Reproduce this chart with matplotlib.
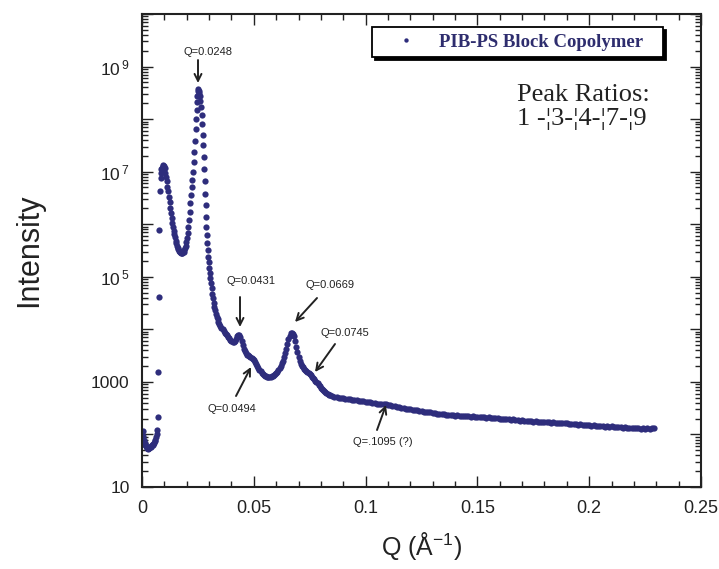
import matplotlib
matplotlib.use("Agg")
import matplotlib.pyplot as plt
from matplotlib.ticker import FixedLocator, LogLocator, NullFormatter, MultipleLocator

plt.rcParams['font.family'] = ['Liberation Sans', 'DejaVu Sans']
plt.rcParams['mathtext.fontset'] = 'custom'
plt.rcParams['mathtext.rm'] = 'Liberation Sans'
plt.rcParams['mathtext.it'] = 'Liberation Sans'

# --- data (Q in 1/A, intensity in counts) ---
q_beamstop = [0.0003, 0.0006, 0.0009, 0.0012, 0.0015, 0.0018, 0.0021, 0.0024, 0.0027,
              0.0030, 0.0033, 0.0036, 0.0039, 0.0042, 0.0045, 0.0048, 0.0051, 0.0054,
              0.0057, 0.0060, 0.0063, 0.0066, 0.0068, 0.0070, 0.0072, 0.0075, 0.0077,
              0.0080]
i_beamstop = [115, 95, 80, 70, 63, 59, 56, 55, 54,
              55, 56, 57, 58, 60, 62, 64, 67, 70,
              74, 80, 88, 100, 120, 215, 1550, 4.1e4, 7.6e5,
              4.2e6]

q_first = [0.0083, 0.0085, 0.0087, 0.0090, 0.0093, 0.0096, 0.0099, 0.0102, 0.0105,
           0.0108, 0.0111, 0.0114, 0.0117, 0.0120, 0.0123, 0.0126, 0.0129, 0.0132,
           0.0135, 0.0138, 0.0141, 0.0144, 0.0147, 0.0150, 0.0153, 0.0156, 0.0159,
           0.0162, 0.0165, 0.0168, 0.0171, 0.0174, 0.0177, 0.0180, 0.0183, 0.0186,
           0.0189, 0.0192, 0.0195, 0.0198, 0.0201, 0.0204, 0.0207, 0.0210, 0.0213,
           0.0216, 0.0219, 0.0222, 0.0225, 0.0228, 0.0231, 0.0234, 0.0237, 0.0240,
           0.0242, 0.0244, 0.0246, 0.0248, 0.0250, 0.0252, 0.0254, 0.0256, 0.0258,
           0.0261, 0.0264, 0.0267, 0.0270, 0.0272, 0.0274, 0.0276, 0.0278, 0.0280,
           0.0282, 0.0284, 0.0286, 0.0288, 0.0290, 0.0292, 0.0294, 0.0296, 0.0298,
           0.0300, 0.0303, 0.0306, 0.0309, 0.0312, 0.0315, 0.0318, 0.0321, 0.0324,
           0.0327, 0.0330, 0.0334, 0.0338, 0.0342, 0.0346]
i_first = [7.5e6, 9.5e6, 1.1e7, 1.2e7, 1.3e7, 1.35e7, 1.3e7, 1.15e7, 9.5e6,
           8.0e6, 6.5e6, 5.2e6, 4.2e6, 3.3e6, 2.6e6, 2.0e6, 1.6e6, 1.3e6,
           1.05e6, 8.8e5, 7.5e5, 6.5e5, 5.6e5, 4.9e5, 4.3e5, 3.9e5, 3.6e5,
           3.35e5, 3.15e5, 3.0e5, 2.9e5, 2.85e5, 2.8e5, 2.85e5, 2.9e5, 3.0e5,
           3.2e5, 3.5e5, 3.9e5, 4.6e5, 5.5e5, 6.8e5, 8.8e5, 1.2e6, 1.7e6,
           2.5e6, 3.6e6, 5.0e6, 7.0e6, 1.0e7, 1.5e7, 2.4e7, 3.8e7, 6.5e7,
           1.0e8, 1.5e8, 2.1e8, 2.8e8, 3.4e8, 3.7e8, 3.5e8, 3.1e8, 2.7e8,
           2.2e8, 1.7e8, 1.2e8, 8.0e7, 5.0e7, 3.2e7, 1.9e7, 1.1e7, 6.5e6,
           3.8e6, 2.3e6, 1.4e6, 9.0e5, 6.2e5, 4.4e5, 3.2e5, 2.4e5, 1.9e5,
           1.5e5, 1.2e5, 9.5e4, 7.5e4, 6.0e4, 4.8e4, 3.9e4, 3.2e4, 2.7e4,
           2.3e4, 2.0e4, 1.75e4, 1.55e4, 1.4e4, 1.28e4]

q_mid = [0.0350, 0.0355, 0.0360, 0.0365, 0.0370, 0.0375, 0.0380, 0.0385, 0.0390,
         0.0395, 0.0400, 0.0405, 0.0410, 0.0415, 0.0420, 0.0425, 0.0430, 0.0435,
         0.0440, 0.0445, 0.0450, 0.0455, 0.0460, 0.0465, 0.0470, 0.0475, 0.0480,
         0.0485, 0.0490, 0.0495, 0.0500, 0.0505, 0.0510, 0.0515, 0.0520, 0.0525,
         0.0530, 0.0535, 0.0540, 0.0545, 0.0550, 0.0555, 0.0560, 0.0565, 0.0570,
         0.0575, 0.0580, 0.0585, 0.0590, 0.0595, 0.0600, 0.0605, 0.0610, 0.0615,
         0.0620, 0.0625, 0.0630, 0.0635, 0.0640, 0.0645, 0.0650, 0.0655, 0.0660,
         0.0665, 0.0670, 0.0675, 0.0680, 0.0685, 0.0690, 0.0695, 0.0700, 0.0705,
         0.0710, 0.0715, 0.0720, 0.0725, 0.0730, 0.0735, 0.0740, 0.0745, 0.0750,
         0.0755, 0.0760, 0.0765, 0.0770, 0.0775, 0.0780, 0.0785, 0.0790, 0.0795,
         0.0800, 0.0805, 0.0810, 0.0815, 0.0820, 0.0825, 0.0830, 0.0835, 0.0840,
         0.0850, 0.0860, 0.0870, 0.0880, 0.0890, 0.0900, 0.0910, 0.0920, 0.0930,
         0.0940, 0.0950, 0.0960, 0.0970, 0.0980, 0.0990, 0.1000, 0.1010, 0.1020,
         0.1030, 0.1040, 0.1050, 0.1060, 0.1070, 0.1080, 0.1090, 0.1100, 0.1110,
         0.1120, 0.1130, 0.1140, 0.1150]
i_mid = [1.18e4, 1.08e4, 1.0e4, 9.3e3, 8.7e3, 8.2e3, 7.7e3, 7.2e3, 6.8e3,
         6.4e3, 6.1e3, 5.8e3, 5.7e3, 5.9e3, 6.6e3, 7.4e3, 7.9e3, 7.8e3,
         7.0e3, 6.0e3, 5.0e3, 4.3e3, 3.8e3, 3.5e3, 3.3e3, 3.2e3, 3.1e3,
         3.0e3, 2.9e3, 2.75e3, 2.6e3, 2.4e3, 2.2e3, 2.0e3, 1.85e3, 1.7e3,
         1.6e3, 1.5e3, 1.43e3, 1.37e3, 1.32e3, 1.28e3, 1.26e3, 1.25e3, 1.25e3,
         1.26e3, 1.28e3, 1.31e3, 1.35e3, 1.4e3, 1.47e3, 1.56e3, 1.68e3, 1.82e3,
         2.0e3, 2.25e3, 2.55e3, 2.95e3, 3.5e3, 4.3e3, 5.3e3, 6.5e3, 7.6e3,
         8.4e3, 8.7e3, 8.3e3, 7.4e3, 6.0e3, 4.7e3, 3.7e3, 3.0e3, 2.5e3,
         2.2e3, 2.0e3, 1.88e3, 1.78e3, 1.7e3, 1.62e3, 1.55e3, 1.48e3, 1.4e3,
         1.33e3, 1.26e3, 1.2e3, 1.13e3, 1.06e3, 1.0e3, 940, 880, 830,
         780, 735, 695, 660, 630, 605, 585, 568, 555,
         535, 522, 510, 500, 492, 485, 478, 470, 463,
         456, 450, 444, 437, 430, 425, 418, 412, 406,
         400, 394, 388, 382, 377, 373, 372, 368, 360,
         350, 343, 337, 330]

q_tail = [0.116, 0.117, 0.118, 0.119, 0.120, 0.121, 0.122, 0.123, 0.124, 0.125,
          0.126, 0.127, 0.128, 0.129, 0.130, 0.131, 0.132, 0.133, 0.134, 0.135,
          0.136, 0.137, 0.138, 0.139, 0.140, 0.141, 0.142, 0.143, 0.144, 0.145,
          0.146, 0.147, 0.148, 0.149, 0.150, 0.151, 0.152, 0.153, 0.154, 0.155,
          0.156, 0.157, 0.158, 0.159, 0.160, 0.161, 0.162, 0.163, 0.164, 0.165,
          0.166, 0.167, 0.168, 0.169, 0.170, 0.171, 0.172, 0.173, 0.174, 0.175,
          0.176, 0.177, 0.178, 0.179, 0.180, 0.181, 0.182, 0.183, 0.184, 0.185,
          0.186, 0.187, 0.188, 0.189, 0.190, 0.191, 0.192, 0.193, 0.194, 0.195,
          0.196, 0.197, 0.198, 0.199, 0.200, 0.201, 0.202, 0.203, 0.204, 0.205,
          0.206, 0.207, 0.208, 0.209, 0.210, 0.211, 0.212, 0.213, 0.214, 0.215,
          0.216, 0.217, 0.218, 0.219, 0.220, 0.221, 0.222, 0.223, 0.224, 0.225,
          0.226, 0.227, 0.228, 0.229]
i_tail = [322, 318, 310, 306, 300, 296, 292, 286, 283, 276,
          273, 268, 265, 262, 257, 254, 250, 247, 244, 240,
          238, 234, 236, 231, 229, 232, 226, 228, 224, 222,
          226, 219, 221, 217, 219, 214, 216, 212, 209, 213,
          206, 208, 203, 205, 200, 198, 201, 194, 196, 190,
          193, 187, 189, 184, 186, 181, 183, 178, 180, 175,
          177, 173, 176, 171, 173, 169, 172, 167, 169, 165,
          168, 164, 166, 162, 164, 159, 161, 156, 158, 153,
          155, 151, 153, 149, 151, 147, 149, 145, 147, 144,
          146, 141, 143, 140, 142, 138, 140, 136, 139, 134,
          137, 133, 135, 131, 134, 130, 133, 129, 132, 128,
          133, 129, 131, 134]

peak_labels = ['Q=0.0248', 'Q=0.0431', 'Q=0.0494', 'Q=0.0669', 'Q=0.0745', 'Q=.1095 (?)']
x_tick_labels = ['0', '0.05', '0.1', '0.15', '0.2', '0.25']
y_tick_labels = {1: '10', 3: '1000', 5: r'$10^{\,5}$', 7: r'$10^{\,7}$', 9: r'$10^{\,9}$'}

q = q_beamstop + q_first + q_mid + q_tail
intensity = i_beamstop + i_first + i_mid + i_tail

dot_color = '#2e2d7c'

fig = plt.figure(figsize=(7.19, 5.69), dpi=100, facecolor='white')
ax = fig.add_axes([0.1975, 0.1441, 0.7775, 0.8313])

ax.plot(q, intensity, 'o', ms=4.5, mew=0, color=dot_color, label='PIB-PS Block Copolymer')

ax.set_yscale('log')
ax.set_xlim(0, 0.25)
ax.set_ylim(10, 1e10)

ax.xaxis.set_major_locator(FixedLocator([0, 0.05, 0.1, 0.15, 0.2, 0.25]))
ax.set_xticklabels(x_tick_labels)
ax.xaxis.set_minor_locator(MultipleLocator(0.01))

decades = list(range(1, 11))
ax.yaxis.set_major_locator(FixedLocator([10.0 ** d for d in decades]))
ax.set_yticklabels([y_tick_labels.get(d, '') for d in decades])
ax.yaxis.set_minor_locator(LogLocator(base=10, subs=range(2, 10), numticks=50))
ax.yaxis.set_minor_formatter(NullFormatter())

ax.tick_params(which='both', direction='in', top=True, right=True, width=1, colors='#222222')
ax.tick_params(which='major', length=8)
ax.tick_params(which='minor', length=4)
ax.tick_params(axis='x', labelsize=13, pad=9)
ax.tick_params(axis='y', labelsize=12.5, pad=9)
for s in ax.spines.values():
    s.set_linewidth(1.5)
    s.set_color('#222222')

ax.set_xlabel('Q (Å$^{-1}$)', fontsize=18, labelpad=10, color='#222222')
ax.set_ylabel('Intensity', fontsize=22, labelpad=34, color='#222222')

# peak annotations: (text position), (arrow tail), (arrow tip), all in pixel-read data coords
def px2data(px, py):
    return (px - 142) / 2236.0, 10 ** (1 + (487 - py) / 52.56)

notes = [
    (peak_labels[0], (208, 52), (198, 60), (198, 83)),
    (peak_labels[1], (251, 281), (240, 297), (240, 327)),
    (peak_labels[2], (232, 409), (236, 396), (251, 367)),
    (peak_labels[3], (330, 285), (317, 298), (295, 322)),
    (peak_labels[4], (345, 333), (335, 344), (315, 372)),
    (peak_labels[5], (383, 442), (377, 430), (386, 405)),
]
for label, txt, tail, tip in notes:
    ax.text(*px2data(*txt), label, fontsize=8, ha='center', va='center', color='#222222')
    ax.annotate('', xy=px2data(*tip), xytext=px2data(*tail),
                arrowprops=dict(arrowstyle='->,head_length=0.5,head_width=0.25',
                                lw=1.4, color='#222222', shrinkA=0, shrinkB=0))

leg = ax.legend(loc='upper left', bbox_to_anchor=(0.411, 0.972, 0.521, 0.0), mode='expand',
                frameon=True, fancybox=False, shadow={'color': 'black', 'alpha': 1.0},
                borderpad=0.35, handlelength=2.9, handletextpad=0.35, markerscale=0.7,
                prop={'family': 'Liberation Serif', 'weight': 'bold', 'size': 13.5},
                labelcolor='#2e2d6e', borderaxespad=0)
leg.get_frame().set_edgecolor('black')
leg.get_frame().set_linewidth(1.3)
leg.get_frame().set_alpha(1)

ax.text(0.671, 0.828, 'Peak Ratios:', transform=ax.transAxes, fontsize=19,
        family='Liberation Serif', va='center', ha='left', color='#222222')
ax.text(0.671, 0.779, '1 -¦3-¦4-¦7-¦9', transform=ax.transAxes, fontsize=19,
        family='Liberation Serif', va='center', ha='left', color='#222222')

fig.savefig('out.png', dpi=100, facecolor='white')
